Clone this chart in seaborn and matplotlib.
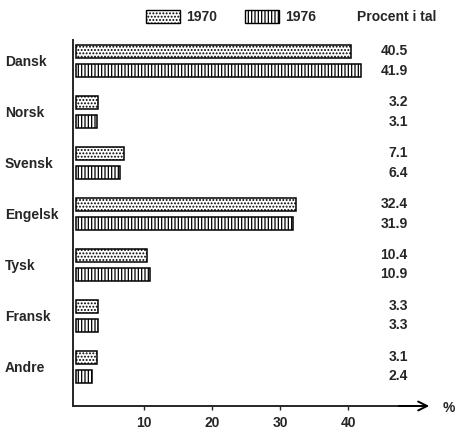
import matplotlib
matplotlib.use('Agg')
import matplotlib.pyplot as plt
import matplotlib.patches as mpatches
import seaborn as sns
import pandas as pd

# Data
sprog = ['Dansk', 'Norsk', 'Svensk', 'Engelsk', 'Tysk', 'Fransk', 'Andre']
pct_1970 = [40.5, 3.2, 7.1, 32.4, 10.4, 3.3, 3.1]
pct_1976 = [41.9, 3.1, 6.4, 31.9, 10.9, 3.3, 2.4]
years = ['1970', '1976']
hatches = ['.....', '|||||']
xticks = [10, 20, 30, 40]

df = pd.DataFrame({
    'sprog': sprog * 2,
    'pct': pct_1970 + pct_1976,
    'aar': [years[0]] * len(sprog) + [years[1]] * len(sprog),
})

sns.set_style('white')
plt.rcParams['font.family'] = ['Liberation Sans', 'DejaVu Sans']
plt.rcParams['font.weight'] = 'bold'
plt.rcParams['hatch.linewidth'] = 0.9
fs = 10

fig = plt.figure(figsize=(4.58, 4.34), dpi=100)
ax = fig.add_axes([73 / 458, 1 - 406 / 434, (432 - 73) / 458, (406 - 40) / 434])

sns.barplot(data=df, y='sprog', x='pct', hue='aar', orient='h',
            palette={y: 'white' for y in years}, edgecolor='black',
            linewidth=1.1, width=0.76, gap=0.33, ax=ax)

for cont, h in zip(ax.containers, hatches):
    for bar in cont:
        bar.set_hatch(h)

# value labels in a column at the right
for cont, vals in zip(ax.containers, [pct_1970, pct_1976]):
    for bar, v in zip(cont, vals):
        ax.text(48.8, bar.get_y() + bar.get_height() / 2, f'{v:.1f}',
                ha='right', va='center', fontsize=fs, fontweight='bold')

ax.legend_.remove()
ax.set_xlim(-0.45, 52.35)
ax.set_ylim(6.77, -0.41)
ax.set_xlabel('')
ax.set_ylabel('')
ax.set_xticks(xticks)
ax.set_xticklabels([str(t) for t in xticks], fontsize=fs, fontweight='bold')
ax.tick_params(axis='x', direction='out', length=3, width=1, pad=4, bottom=True)
ax.tick_params(axis='y', length=0, pad=49, labelsize=fs)
for lbl in ax.get_yticklabels():
    lbl.set_horizontalalignment('left')
    lbl.set_fontweight('bold')

for s in ['top', 'right']:
    ax.spines[s].set_visible(False)
ax.spines['left'].set_linewidth(1.4)
ax.spines['bottom'].set_linewidth(1.4)
ax.spines['bottom'].set_bounds(-0.45, 51)
ax.annotate('', xy=(1.0, 0), xytext=(0.9, 0), xycoords='axes fraction',
            arrowprops=dict(arrowstyle='->', lw=1.4, color='black',
                            mutation_scale=16), annotation_clip=False)
fig.text(449 / 458, 1 - 408 / 434, '%', ha='center', va='center',
         fontsize=fs, fontweight='bold')

handles = [mpatches.Patch(facecolor='white', edgecolor='black', hatch=h, lw=1)
           for h in hatches]
fig.legend(handles, years, ncol=2, frameon=False, loc='center',
           bbox_to_anchor=(231 / 458, 1 - 17 / 434), handlelength=2.45,
           handleheight=1.05, handletextpad=0.45, columnspacing=2.0,
           prop={'size': fs, 'weight': 'bold'})
fig.text(397 / 458, 1 - 17 / 434, 'Procent i tal', ha='center', va='center',
         fontsize=fs, fontweight='bold')

fig.savefig('out.png', dpi=100)
